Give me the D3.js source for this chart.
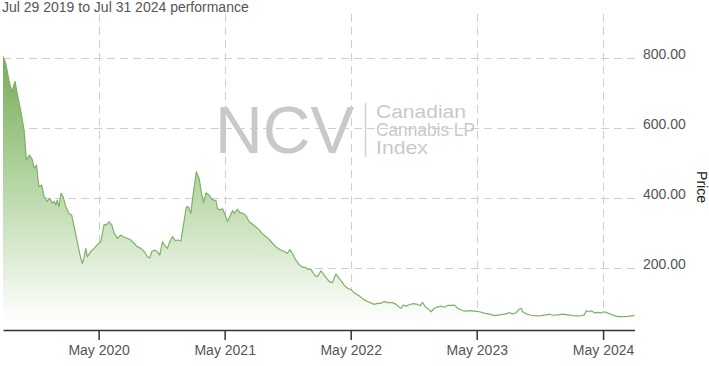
<!DOCTYPE html>
<html><head><meta charset="utf-8">
<script src="https://cdn.jsdelivr.net/npm/d3@7"></script>
<style>
body{margin:0;background:#fff}
svg{display:block}
text{font-family:"Liberation Sans",Arial,Helvetica,sans-serif}
</style>
</head><body>
<svg id="chart" width="709" height="366"></svg>
<script>
const titleText = "Jul 29 2019 to Jul 31 2024 performance";
const yAxisTitle = "Price";
const yTicks = [200, 400, 600, 800];
const xTickDates = ["2020-05-01", "2021-05-01", "2022-05-01", "2023-05-01", "2024-05-01"];
const xTickLabels = ["May 2020", "May 2021", "May 2022", "May 2023", "May 2024"];
const dateRange = ["2019-07-29", "2024-07-31"];
const watermarkBig = "NCV";
const watermarkLines = ["Canadian", "Cannabis LP", "Index"];
const watermarkWidths = [90, 99, 52];

const dates = [
"2019-07-29","2019-08-06","2019-08-15","2019-08-23","2019-09-02","2019-09-08","2019-09-18","2019-09-28",
"2019-10-05","2019-10-14","2019-10-22","2019-10-27","2019-11-03","2019-11-10","2019-11-18","2019-11-25",
"2019-12-04","2019-12-11","2019-12-19","2019-12-24","2019-12-29","2020-01-02","2020-01-07","2020-01-13",
"2020-01-19","2020-01-27","2020-02-05","2020-02-13","2020-02-20","2020-02-26","2020-03-05","2020-03-10",
"2020-03-15","2020-03-20","2020-03-25","2020-03-29","2020-04-08","2020-04-18","2020-04-27","2020-05-07",
"2020-05-17","2020-05-23","2020-05-31","2020-06-08","2020-06-15","2020-06-24","2020-07-04","2020-07-14",
"2020-07-23","2020-08-02","2020-08-12","2020-08-21","2020-08-31","2020-09-10","2020-09-19","2020-09-26",
"2020-10-02","2020-10-09","2020-10-18","2020-10-25","2020-11-02","2020-11-07","2020-11-16","2020-11-23",
"2020-12-01","2020-12-09","2020-12-15","2020-12-25","2021-01-01","2021-01-10","2021-01-16","2021-01-23",
"2021-01-30","2021-02-08","2021-02-16","2021-02-23","2021-03-01","2021-03-08","2021-03-17","2021-03-25",
"2021-04-06","2021-04-10","2021-04-17","2021-04-25","2021-05-03","2021-05-09","2021-05-16","2021-05-24",
"2021-05-29","2021-06-07","2021-06-14","2021-06-24","2021-07-02","2021-07-11","2021-07-21","2021-07-30",
"2021-08-09","2021-08-17","2021-08-28","2021-09-07","2021-09-17","2021-09-28","2021-10-08","2021-10-20",
"2021-10-30","2021-11-06","2021-11-14","2021-11-23","2021-12-03","2021-12-13","2021-12-20","2021-12-27",
"2022-01-06","2022-01-16","2022-01-22","2022-01-28","2022-02-04","2022-02-11","2022-02-18","2022-02-28",
"2022-03-09","2022-03-19","2022-03-26","2022-04-03","2022-04-12","2022-04-22","2022-05-02","2022-05-11",
"2022-05-26","2022-06-09","2022-06-24","2022-07-08","2022-07-18","2022-07-28","2022-08-06","2022-08-16",
"2022-08-30","2022-09-09","2022-09-19","2022-09-24","2022-09-30","2022-10-08","2022-10-18","2022-10-29",
"2022-11-11","2022-11-18","2022-11-25","2022-12-03","2022-12-13","2022-12-20","2022-12-29","2023-01-08",
"2023-01-18","2023-01-27","2023-02-06","2023-02-16","2023-02-25","2023-03-07","2023-03-17","2023-03-26",
"2023-04-10","2023-04-24","2023-05-09","2023-05-23","2023-06-07","2023-06-21","2023-07-06","2023-07-20",
"2023-08-04","2023-08-13","2023-08-23","2023-08-31","2023-09-07","2023-09-11","2023-09-21","2023-10-06",
"2023-10-20","2023-11-04","2023-11-18","2023-11-28","2023-12-07","2023-12-22","2024-01-05","2024-01-20",
"2024-02-03","2024-02-18","2024-03-01","2024-03-08","2024-03-13","2024-03-21","2024-03-28","2024-04-06",
"2024-04-16","2024-04-26","2024-05-05","2024-05-15","2024-05-25","2024-06-03","2024-06-13","2024-06-27",
"2024-07-12","2024-07-26","2024-07-31"
];
const prices = [
804,785,737,704,733,699,651,594,
509,523,509,485,494,432,437,404,
390,399,385,390,380,394,375,413,
404,375,356,351,318,290,251,228,
213,232,256,232,247,256,266,275,
325,323,332,323,299,285,294,288,
285,280,270,261,256,247,232,229,
247,251,247,237,275,266,256,275,
290,278,280,277,318,375,375,356,
413,475,456,413,387,415,408,396,
392,370,366,369,350,333,347,364,
356,368,358,356,349,332,325,318,
309,299,290,282,270,259,253,247,
242,253,240,223,209,202,202,197,
196,180,175,180,192,183,173,161,
158,183,173,164,151,142,138,129,
120,109,102,96,99,99,104,101,
101,96,88,85,94,91,95,98,
96,92,102,89,82,75,85,89,
91,88,93,93,94,85,80,77,
78,77,75,71,68,64,66,68,
72,69,72,82,85,75,69,65,
63,64,66,68,65,66,68,66,
64,63,64,66,78,75,78,72,
73,72,75,71,68,64,61,61,
62,64,64
];

const W = 709, H = 366;
const plot = {left: 3, right: 636, top: 14, bottom: 330};
const parse = d3.utcParse("%Y-%m-%d");
const data = dates.map((d, i) => ({date: parse(d), value: prices[i]}));

const svg = d3.select("#chart");
svg.append("rect").attr("width", W).attr("height", H).attr("fill", "#fff");

const x = d3.scaleUtc().domain(dateRange.map(parse)).range([3, 634.5]);
const y = d3.scaleLinear().domain([0, 800]).range([338, 58]);

const defs = svg.append("defs");
const grad = defs.append("linearGradient").attr("id", "fillGrad")
  .attr("gradientUnits", "userSpaceOnUse")
  .attr("x1", 0).attr("x2", 0).attr("y1", y(800)).attr("y2", 322);
grad.append("stop").attr("offset", "0").attr("stop-color", "rgb(118,172,92)");
grad.append("stop").attr("offset", "0.45").attr("stop-color", "rgb(178,212,160)");
grad.append("stop").attr("offset", "1").attr("stop-color", "rgb(255,255,255)");

// title
svg.append("text").attr("x", 2).attr("y", 11.5)
  .attr("font-size", 14).attr("fill", "#555").text(titleText);

// gridlines
const grid = svg.append("g").attr("stroke", "#cfcfcf").attr("stroke-width", 1)
  .attr("stroke-dasharray", "8,5").attr("fill", "none");
grid.selectAll("line.h").data(yTicks).join("line").attr("class", "h")
  .attr("x1", plot.left).attr("x2", plot.right)
  .attr("y1", d => Math.round(y(d)) + 0.5).attr("y2", d => Math.round(y(d)) + 0.5);
grid.selectAll("line.v").data(xTickDates.map(parse)).join("line").attr("class", "v")
  .attr("x1", d => Math.round(x(d)) + 0.5).attr("x2", d => Math.round(x(d)) + 0.5)
  .attr("y1", plot.top).attr("y2", plot.bottom);

// watermark
const wm = svg.append("g").attr("fill", "#c9c9c9");
wm.append("text").attr("x", 215).attr("y", 152.5).attr("font-size", 66).text(watermarkBig);
wm.append("line").attr("x1", 365.5).attr("x2", 365.5).attr("y1", 103).attr("y2", 157)
  .attr("stroke", "#d2d2d2").attr("stroke-width", 1.5);
wm.selectAll("text.sub").data(watermarkLines).join("text").attr("class", "sub")
  .attr("x", 376).attr("y", (d, i) => 118 + i * 18).attr("font-size", 19)
  .attr("textLength", (d, i) => watermarkWidths[i]).attr("lengthAdjust", "spacingAndGlyphs")
  .text(d => d);

// area + line
const area = d3.area().x(d => x(d.date)).y0(plot.bottom).y1(d => y(d.value));
const line = d3.line().x(d => x(d.date)).y(d => y(d.value));
svg.append("path").datum(data).attr("d", area).attr("fill", "url(#fillGrad)");
svg.append("path").datum(data).attr("d", line).attr("fill", "none")
  .attr("stroke", "#7fb068").attr("stroke-width", 1.2).attr("stroke-linejoin", "round");

// x axis
const xAxis = d3.axisBottom(x)
  .tickValues(xTickDates.map(parse))
  .tickFormat((d, i) => xTickLabels[i])
  .tickSize(10).tickSizeOuter(0).tickPadding(5);
const gx = svg.append("g").attr("transform", `translate(0,${plot.bottom})`).call(xAxis);
gx.select(".domain").attr("stroke", "#333").attr("stroke-width", 1.5);
gx.selectAll(".tick line").attr("stroke", "#333").attr("stroke-width", 1.5);
gx.selectAll(".tick text").attr("font-size", 14).attr("fill", "#555")
  .attr("font-family", "'Liberation Sans', Arial, sans-serif");

// y axis (right)
const yAxis = d3.axisRight(y).tickValues(yTicks).tickFormat(d3.format(".2f"))
  .tickSize(0).tickPadding(0);
const gy = svg.append("g").attr("transform", "translate(643,0)").call(yAxis);
gy.select(".domain").remove();
gy.selectAll(".tick text").attr("font-size", 14).attr("fill", "#555").attr("dy", "0.05em")
  .attr("font-family", "'Liberation Sans', Arial, sans-serif");

// y axis title
svg.append("text").attr("transform", "translate(697,187) rotate(90)")
  .attr("text-anchor", "middle").attr("font-size", 14).attr("fill", "#222").text(yAxisTitle);
</script>
</body></html>
